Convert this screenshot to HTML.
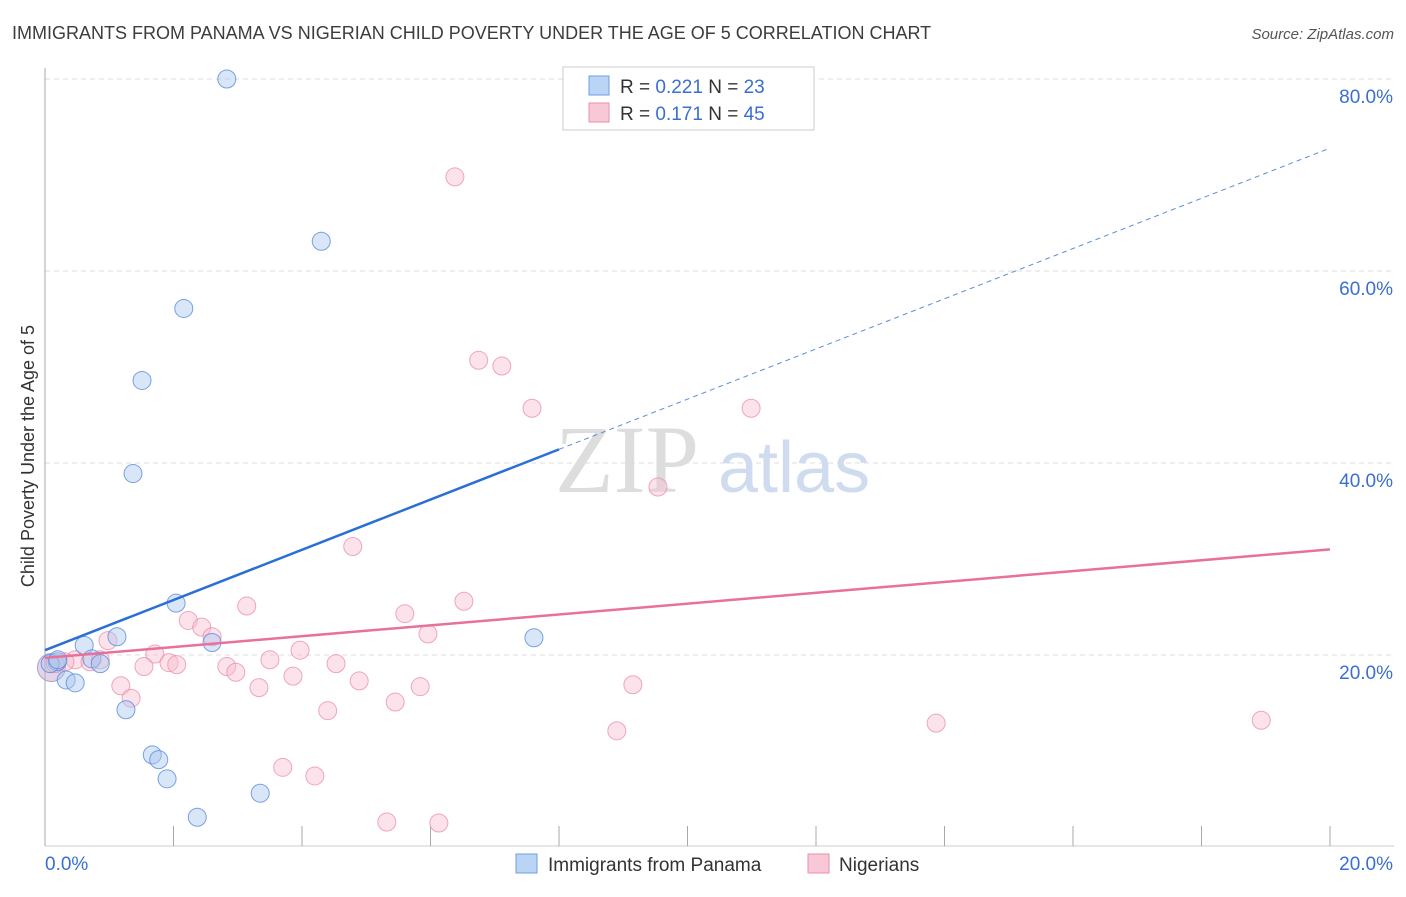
<!DOCTYPE html>
<html><head><meta charset="utf-8"><style>
body{margin:0;background:#fff;font-family:"Liberation Sans",sans-serif;}
</style></head><body>
<svg id="chart" width="1406" height="892" xmlns="http://www.w3.org/2000/svg" font-family="Liberation Sans, sans-serif">
<text x="12" y="39" font-size="18" fill="#3c3c3c">IMMIGRANTS FROM PANAMA VS NIGERIAN CHILD POVERTY UNDER THE AGE OF 5 CORRELATION CHART</text>
<text x="1394" y="39" font-size="15" font-style="italic" fill="#555" text-anchor="end">Source: ZipAtlas.com</text>
<text transform="translate(34,456) rotate(-90)" font-size="18" fill="#333" text-anchor="middle">Child Poverty Under the Age of 5</text>
<g id="grid"></g>
<text x="555" y="492" font-size="96" font-family="Liberation Serif, serif" fill="#ddd">ZIP</text>
<text x="718" y="492" font-size="72" fill="#cfdcf0">atlas</text>
<g id="marks"></g>
<g>
<rect x="563" y="67" width="251" height="63" fill="#fff" stroke="#ccc"/>
<rect x="589" y="76" width="20" height="19" fill="#b9d4f5" stroke="#6e9ee0"/>
<rect x="589" y="103" width="20" height="19" fill="#f9c8d6" stroke="#ea8fae"/>
<text x="620" y="93" font-size="19" fill="#333">R = <tspan fill="#3a6fd0">0.221</tspan>   N = <tspan fill="#3a6fd0">23</tspan></text>
<text x="620" y="120" font-size="19" fill="#333">R =  <tspan fill="#3a6fd0">0.171</tspan>   N = <tspan fill="#3a6fd0">45</tspan></text>
</g>
<g>
<rect x="516" y="854" width="21" height="19" fill="#b9d4f5" stroke="#6e9ee0"/>
<text x="548" y="871" font-size="19" fill="#333">Immigrants from Panama</text>
<rect x="808" y="854" width="21" height="19" fill="#f9c8d6" stroke="#ea8fae"/>
<text x="839" y="871" font-size="19" fill="#333">Nigerians</text>
</g>
</svg>
<script>
const xTickLabels=["0.0%","20.0%"];
const yTicks=[20,40,60,80];
const blueX=[2.83,4.30,2.16,1.51,1.37,2.04,1.12,0.61,2.60,0.19,0.73,0.86,0.33,0.47,1.26,1.67,1.77,1.90,2.37,3.35,7.61,0.08,0.20];
const blueY=[80.0,63.1,56.1,48.6,38.9,25.4,21.9,21.0,21.3,19.3,19.6,19.1,17.4,17.1,14.3,9.6,9.1,7.1,3.1,5.6,21.8,19.1,19.5];
const pinkX=[6.38,6.75,7.11,7.58,10.99,9.54,4.79,6.52,3.14,5.60,2.23,2.44,2.60,0.98,1.71,3.50,3.97,4.53,1.93,2.05,1.54,2.83,2.97,3.86,4.89,5.84,1.18,1.34,3.33,4.40,5.45,9.15,8.90,13.87,18.93,3.70,4.20,5.32,6.13,5.96,0.47,0.31,0.70,0.16,0.86];
const pinkY=[69.8,50.7,50.1,45.7,45.7,37.5,31.3,25.6,25.1,24.3,23.6,22.9,21.9,21.5,20.1,19.5,20.5,19.1,19.2,19.0,18.8,18.8,18.2,17.8,17.3,16.7,16.8,15.5,16.6,14.2,15.1,16.9,12.1,12.9,13.2,8.3,7.4,2.6,2.5,22.2,19.5,19.3,19.3,19.1,19.5];
const blueTrend=[20.5,72.8];
const pinkTrend=[19.7,31.0];
const blueSolidEnd=8.0;
const NS="http://www.w3.org/2000/svg";
const X=v=>45+v*1285/20, Y=v=>847-v*192/20;
function mk(t,a,p){const e=document.createElementNS(NS,t);for(const k in a)e.setAttribute(k,a[k]);p.appendChild(e);return e;}
const grid=document.getElementById('grid'),marks=document.getElementById('marks');
yTicks.forEach(t=>{
 const l=mk('line',{x1:45,x2:1394,y1:Y(t),y2:Y(t),stroke:'#ddd','stroke-dasharray':'5,4'},grid);
 
 
 const tx=mk('text',{x:1393,y:Y(t)+24,'font-size':19,fill:'#3a6fd0','text-anchor':'end'},grid);
 tx.textContent=t.toFixed(1)+'%';
 
 
});
const ax=mk('line',{x1:45,x2:45,y1:68,y2:846,stroke:'#aaa'},grid);


const bx=mk('line',{x1:45,x2:1394,y1:846,y2:846,stroke:'#ccc'},grid);


for(let i=1;i<=10;i++){const t=mk('line',{x1:X(i*2),x2:X(i*2),y1:826,y2:846,stroke:'#aaa'},grid);
 
 }
xTickLabels.forEach((s,i)=>{const t=mk('text',{x:i?1393:45,y:870,'font-size':19,fill:'#3a6fd0','text-anchor':i?'end':'start'},grid);t.textContent=s;
 
 });
mk('circle',{cx:X(0.1),cy:Y(18.7),r:14,fill:'rgba(200,170,210,0.5)',stroke:'#b0a0d0'},marks);
pinkX.forEach((x,i)=>{const c=mk('circle',{cx:X(x),cy:Y(pinkY[i]),r:9,fill:'rgba(248,190,208,0.45)',stroke:'rgba(234,140,170,0.75)','stroke-width':1},marks);
 
 });
blueX.forEach((x,i)=>{const c=mk('circle',{cx:X(x),cy:Y(blueY[i]),r:9,fill:'rgba(170,200,240,0.45)',stroke:'rgba(90,140,220,0.8)','stroke-width':1},marks);
 
 });
const by=x=>blueTrend[0]+(blueTrend[1]-blueTrend[0])*x/20;
const l1=mk('line',{x1:X(0),y1:Y(by(0)),x2:X(blueSolidEnd),y2:Y(by(blueSolidEnd)),stroke:'#2a6fd6','stroke-width':2.5},marks);


const l2=mk('line',{x1:X(blueSolidEnd),y1:Y(by(blueSolidEnd)),x2:X(20),y2:Y(by(20)),stroke:'#5a8fd8','stroke-width':1,'stroke-dasharray':'5,4'},marks);


const l3=mk('line',{x1:X(0),y1:Y(pinkTrend[0]),x2:X(20),y2:Y(pinkTrend[1]),stroke:'#e8709a','stroke-width':2.5},marks);


</script>
</body></html>
